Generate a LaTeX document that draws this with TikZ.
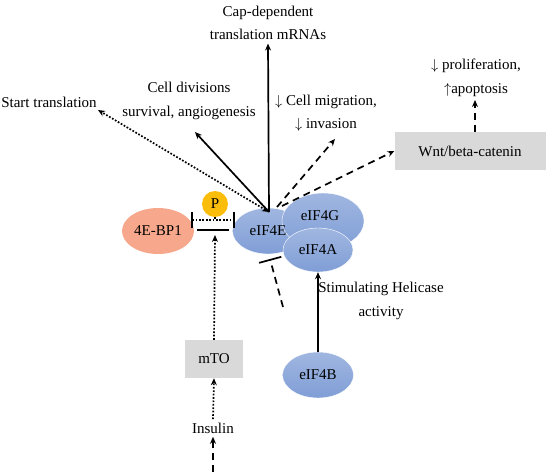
\documentclass[tikz,border=0pt]{standalone}
\usepackage{fontspec}
\setmainfont{Liberation Serif}
\usetikzlibrary{shapes.geometric,arrows.meta}
\definecolor{eifblue}{RGB}{128,158,214}
\definecolor{bpsalmon}{RGB}{247,168,140}
\definecolor{pgold}{RGB}{250,190,10}
\definecolor{boxgray}{RGB}{217,217,217}
\tikzset{
	eif/.style={ellipse,top color=eifblue!75!white,bottom color=eifblue,draw=white,thin,minimum width=71pt,minimum height=46pt,inner sep=0pt},
	graybox/.style={fill=boxgray,minimum width=58pt,minimum height=38pt,inner sep=0pt},
	lbl/.style={align=center,font=\fontsize{15}{23.5}\selectfont},
	ln/.style={line width=1.7pt},
	dts/.style={line width=1.7pt,dash pattern=on 1.7pt off 1.7pt},
	dsh/.style={line width=1.7pt,dash pattern=on 7pt off 5pt},
}
\begin{document}
\begin{tikzpicture}[x=1pt,y=-1pt,font=\fontsize{15}{17}\selectfont, line join=round, >={Stealth[length=7pt,width=6pt]}] %eIF4E pathway
	\useasboundingbox (0,0) rectangle (550,472);
	% proteins
	\node[eif] (e4E) at (268,231) {};
	\node[eif,minimum width=82pt,minimum height=56pt] (e4G) at (323,221) {};
	\node[eif,minimum width=70pt,minimum height=44pt] (e4A) at (318,250) {};
	\node (e4Et) at (e4E) {eIF4E};
	\node (e4Gt) at (320,216) {eIF4G};
	\node (e4At) at (e4A) {eIF4A};
	\node[eif] (e4B) at (318,375) {eIF4B};
	\node[ellipse,fill=bpsalmon,minimum width=72pt,minimum height=46pt,inner sep=0pt] (bp) at (158,231) {4E-BP1};
	\node[circle,fill=pgold,minimum size=26pt,inner sep=0pt] (pp) at (215,204) {P};
	\node[graybox] (mto) at (214,359) {mTO};
	\node[graybox,minimum width=151pt] (wnt) at (470,151) {Wnt/beta-catenin};
	% labels
	\node[lbl] (cap) at (268,23) {Cap-dependent\\translation mRNAs};
	\node[lbl] (start) at (49,102) {Start translation};
	\node[lbl] (cdiv) at (189,101) {Cell divisions\\survival, angiogenesis};
	\node[lbl] (mig) at (326,113) {$\downarrow$ Cell migration,\\$\downarrow$ invasion};
	\node[lbl] (prol) at (476,78) {$\downarrow$ proliferation,\\$\uparrow$apoptosis};
	\node[lbl] (helic) at (381,301) {Stimulating Helicase\\activity};
	\node (ins) at (213,428) {Insulin};
	% connectors
	\coordinate (hub) at (269,212);
	\coordinate (low) at (283,307);
	\coordinate (src) at (213,472);
	\draw[ln,->] (hub) -- (cap.south);
	\draw[ln,->] (hub) -- (195,132);
	\draw[dts,<->] (hub) -- (98,110);
	\draw[dsh,->] (277,207) -- (335,139);
	\draw[dsh,->] (282,206) -- (wnt.west);
	\draw[dsh,->] (475,132) -- (475,100);
	\draw[ln,->] (e4B.north) -- (e4A.south);
	\draw[dsh,-{Bar[width=23pt,line width=1.7pt]}] (low) -- (270,259);
	% 4E-BP1 / eIF4E binding
	\draw[dts,{Bar[width=16pt,line width=1.7pt]}-{Bar[width=16pt,line width=1.7pt]}] (191,220) -- (235,220);
	\draw[ln] (197,230) -- (229,230);
	\draw[dts] (pp.south) -- (215,220);
	\draw[dts,->] (mto.north) -- (215,235);
	\draw[dts,->] (ins.north) -- (mto.south);
	\draw[dsh,->] (src) -- (ins.south);
\end{tikzpicture}
\end{document}
